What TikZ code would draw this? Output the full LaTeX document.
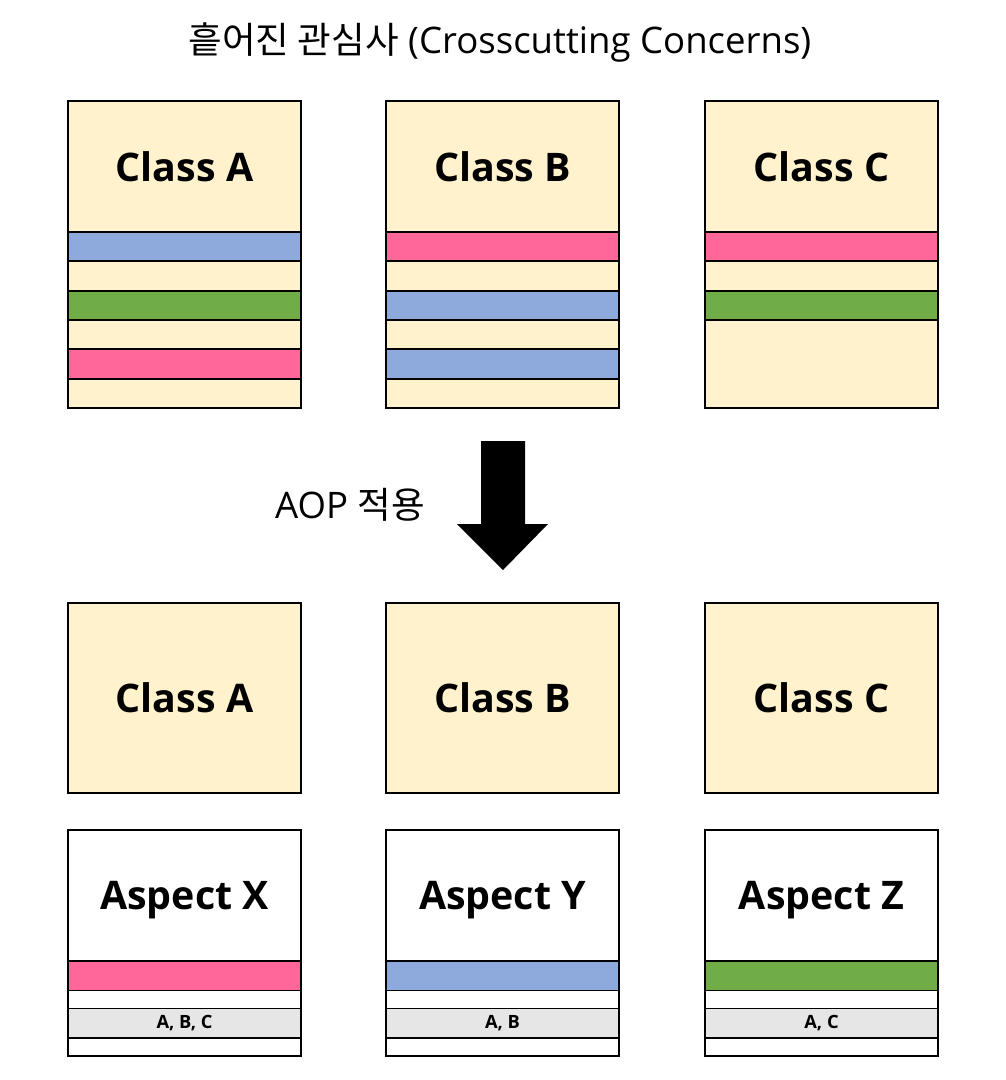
\documentclass[tikz,border=0pt]{standalone}
\usepackage{fontspec}
\setmainfont{Open Sans}
\newfontfamily\krfont{Noto Sans CJK KR}
\usetikzlibrary{positioning}
\definecolor{xcream}{RGB}{255,242,204}
\definecolor{xblue}{RGB}{142,169,219}
\definecolor{xgreen}{RGB}{112,173,71}
\definecolor{xpink}{RGB}{255,102,153}
\definecolor{xgray}{RGB}{231,230,230}

\begin{document}
\begin{tikzpicture}[
  x=0.025cm, y=-0.025cm,
  box/.style={
    draw=black, fill=#1, line width=1.2pt, anchor=north west,
    inner sep=0pt, outer sep=0pt, minimum width=5.825cm
  },
  classhead/.style={box=xcream, minimum height=3.275cm,
                    font=\fontsize{28}{30}\selectfont\bfseries},
  classbox/.style={box=xcream, minimum height=4.75cm,
                   font=\fontsize{28}{30}\selectfont\bfseries},
  aspecthead/.style={box=white, minimum height=3.275cm, text depth=0pt,
                     font=\fontsize{28}{30}\selectfont\bfseries},
  stripe/.style={box=#1, minimum height=0.733cm},
  gap/.style={box=white, minimum height=0.45cm},
  tag/.style={box=xgray, minimum height=0.733cm,
              font=\fontsize{13}{14}\selectfont\bfseries}
]
  \useasboundingbox (0,0) rectangle (1006,1080);

  % title
  \node[font=\fontsize{26}{28}\selectfont] (title) at (500,42)
    {{\krfont 흩어진 관심사} (Crosscutting Concerns)};

  % before: classes with scattered concerns
  \node[classhead] (CA) at (68,101)  {Class A};
  \node[classhead] (CB) at (386,101) {Class B};
  \node[classhead] (CC) at (705,101) {Class C};

  \foreach \c [count=\i] in {xblue,xcream,xgreen,xcream,xpink,xcream}
    \node[stripe=\c] (CA\i) at (68,{232+29.33*(\i-1)}) {};
  \foreach \c [count=\i] in {xpink,xcream,xblue,xcream,xblue,xcream}
    \node[stripe=\c] (CB\i) at (386,{232+29.33*(\i-1)}) {};
  \foreach \c [count=\i] in {xpink,xcream,xgreen}
    \node[stripe=\c] (CC\i) at (705,{232+29.33*(\i-1)}) {};
  \node[box=xcream, minimum height=2.2cm, below=0pt of CC3] (CC4) {};

  % AOP arrow
  \fill[black] (481,441) -- (525,441) -- (525,524) -- (548,524)
    -- (503,570) -- (457,524) -- (481,524) -- cycle;
  \node[font=\fontsize{26}{28}\selectfont] (aop) at (350,505)
    {AOP {\krfont 적용}};

  % after: classes
  \node[classbox] (DA) at (68,603)  {Class A};
  \node[classbox] (DB) at (386,603) {Class B};
  \node[classbox] (DC) at (705,603) {Class C};

  % after: aspects
  \node[aspecthead] (AX) at (68,830)  {Aspect X};
  \node[aspecthead] (AY) at (386,830) {Aspect Y};
  \node[aspecthead] (AZ) at (705,830) {Aspect Z};

  \foreach \a/\c/\t in {AX/xpink/{A, B, C}, AY/xblue/{A, B}, AZ/xgreen/{A, C}} {
    \node[stripe=\c, below=0pt of \a] (\a1) {};
    \node[gap, below=0pt of \a1] (\a2) {};
    \node[tag, below=0pt of \a2] (\a3) {\t};
    \node[gap, below=0pt of \a3] (\a4) {};
  }
\end{tikzpicture}
\end{document}
